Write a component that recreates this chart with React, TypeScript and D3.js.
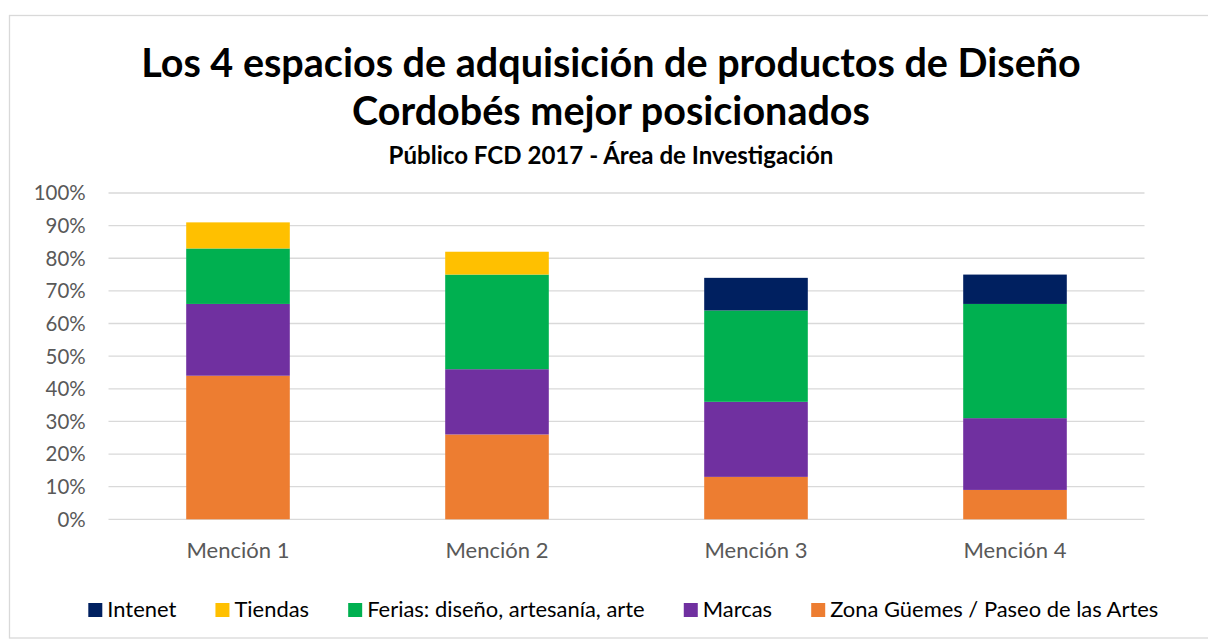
import React, { useMemo } from "react";
import * as d3 from "d3";

const categories = ["Mención 1", "Mención 2", "Mención 3", "Mención 4"];
const zonaGuemes = [0.44, 0.26, 0.13, 0.09];
const marcas = [0.22, 0.2, 0.23, 0.22];
const ferias = [0.17, 0.29, 0.28, 0.35];
const tiendas = [0.08, 0.07, 0, 0];
const intenet = [0, 0, 0.1, 0.09];

const seriesKeys = ["zona", "marcas", "ferias", "tiendas", "intenet"];
const seriesLabels: Record<string, string> = {
  intenet: "Intenet",
  tiendas: "Tiendas",
  ferias: "Ferias: diseño, artesanía, arte",
  marcas: "Marcas",
  zona: "Zona Güemes / Paseo de las Artes",
};
const seriesColors: Record<string, string> = {
  intenet: "#002060",
  tiendas: "#FFC000",
  ferias: "#00B050",
  marcas: "#7030A0",
  zona: "#ED7D31",
};
const legendOrder = ["intenet", "tiendas", "ferias", "marcas", "zona"];
const yTicks = [0, 0.1, 0.2, 0.3, 0.4, 0.5, 0.6, 0.7, 0.8, 0.9, 1.0];

const titleLine1 = "Los 4 espacios de adquisición de productos de Diseño";
const titleLine2 = "Cordobés mejor posicionados";
const subtitle = "Público FCD 2017 - Área de Investigación";

const FONT = 'Lato, "Open Sans", "DejaVu Sans", sans-serif';

let ctx: CanvasRenderingContext2D | null = null;
function textWidth(t: string, size: number, weight: number | string) {
  if (!ctx) ctx = document.createElement("canvas").getContext("2d");
  if (!ctx) return t.length * size * 0.5;
  ctx.font = `${weight} ${size}px ${FONT}`;
  return ctx.measureText(t).width;
}
function fitSize(t: string, target: number, weight: number | string) {
  return (100 * target) / textWidth(t, 100, weight);
}

export default function App() {
  const W = 1208;
  const H = 640;
  const plotLeft = 108.5;
  const plotRight = 1144.5;
  const plotTop = 193;
  const plotBottom = 519.3;

  const rows = categories.map((c, i) => ({
    cat: c,
    zona: zonaGuemes[i],
    marcas: marcas[i],
    ferias: ferias[i],
    tiendas: tiendas[i],
    intenet: intenet[i],
  }));

  const stacked = d3.stack<any>().keys(seriesKeys)(rows);

  const x = d3
    .scaleBand<string>()
    .domain(categories)
    .range([plotLeft, plotRight])
    .paddingInner(0.6)
    .paddingOuter(0.3);
  const y = d3.scaleLinear().domain([0, 1]).range([plotBottom, plotTop]);

  const sizes = useMemo(() => {
    const title = fitSize(titleLine1, 940, 700);
    const sub = fitSize(subtitle, 446, 700);
    const tick = fitSize("100%", 52, 400);
    const xl = fitSize("Mención 1", 103, 400);
    const leg = fitSize(seriesLabels.zona, 329, 400);
    return { title, sub, tick, xl, leg };
  }, []);

  const pct = d3.format(".0%");

  // legend layout
  const sq = 14;
  const sqGap = 5;
  const legendLeft = 88.3;
  const legendRight = 1159;
  const items = legendOrder.map((k) => ({
    key: k,
    w: sq + sqGap + textWidth(seriesLabels[k], sizes.leg, 400),
  }));
  const sumW = d3.sum(items, (d) => d.w);
  const itemGap = (legendRight - legendLeft - sumW) / (items.length - 1);
  let cursor = legendLeft;
  const legendItems = items.map((it) => {
    const xPos = cursor;
    cursor += it.w + itemGap;
    return { ...it, x: xPos };
  });

  return (
    <svg
      width={W}
      height={H}
      style={{ position: "absolute", left: 0, top: 0, background: "#fff" }}
      fontFamily={FONT}
    >
      <rect x={0} y={0} width={W} height={H} fill="#fff" />
      <rect
        x={9.5}
        y={15.5}
        width={1230}
        height={622.5}
        fill="#fff"
        stroke="#d9d9d9"
        strokeWidth={1.3}
      />
      <text
        x={611}
        y={77}
        textAnchor="middle"
        fontWeight={700}
        fontSize={sizes.title}
        fill="#000"
      >
        {titleLine1}
      </text>
      <text
        x={611}
        y={125}
        textAnchor="middle"
        fontWeight={700}
        fontSize={sizes.title}
        fill="#000"
      >
        {titleLine2}
      </text>
      <text
        x={611}
        y={164}
        textAnchor="middle"
        fontWeight={700}
        fontSize={sizes.sub}
        fill="#000"
      >
        {subtitle}
      </text>

      {yTicks.map((t) => (
        <g key={t}>
          <line
            x1={plotLeft}
            x2={plotRight}
            y1={y(t)}
            y2={y(t)}
            stroke="#d9d9d9"
            strokeWidth={1.3}
          />
          <text
            x={85.7}
            y={y(t)}
            dy="0.36em"
            textAnchor="end"
            fontSize={sizes.tick}
            fill="#595959"
          >
            {pct(t)}
          </text>
        </g>
      ))}

      {stacked.map((s) => (
        <g key={s.key} fill={seriesColors[s.key]}>
          {s.map((d, i) =>
            d[1] - d[0] > 0 ? (
              <rect
                key={i}
                x={x(categories[i])}
                width={x.bandwidth()}
                y={y(d[1])}
                height={y(d[0]) - y(d[1])}
              />
            ) : null
          )}
        </g>
      ))}

      {categories.map((c) => (
        <text
          key={c}
          x={(x(c) as number) + x.bandwidth() / 2}
          y={557.5}
          textAnchor="middle"
          fontSize={sizes.xl}
          fill="#595959"
        >
          {c}
        </text>
      ))}

      {legendItems.map((it) => (
        <g key={it.key}>
          <rect
            x={it.x}
            y={603}
            width={sq}
            height={sq}
            fill={seriesColors[it.key]}
          />
          <text
            x={it.x + sq + sqGap}
            y={616.5}
            fontSize={sizes.leg}
            fill="#000"
          >
            {seriesLabels[it.key]}
          </text>
        </g>
      ))}
    </svg>
  );
}
